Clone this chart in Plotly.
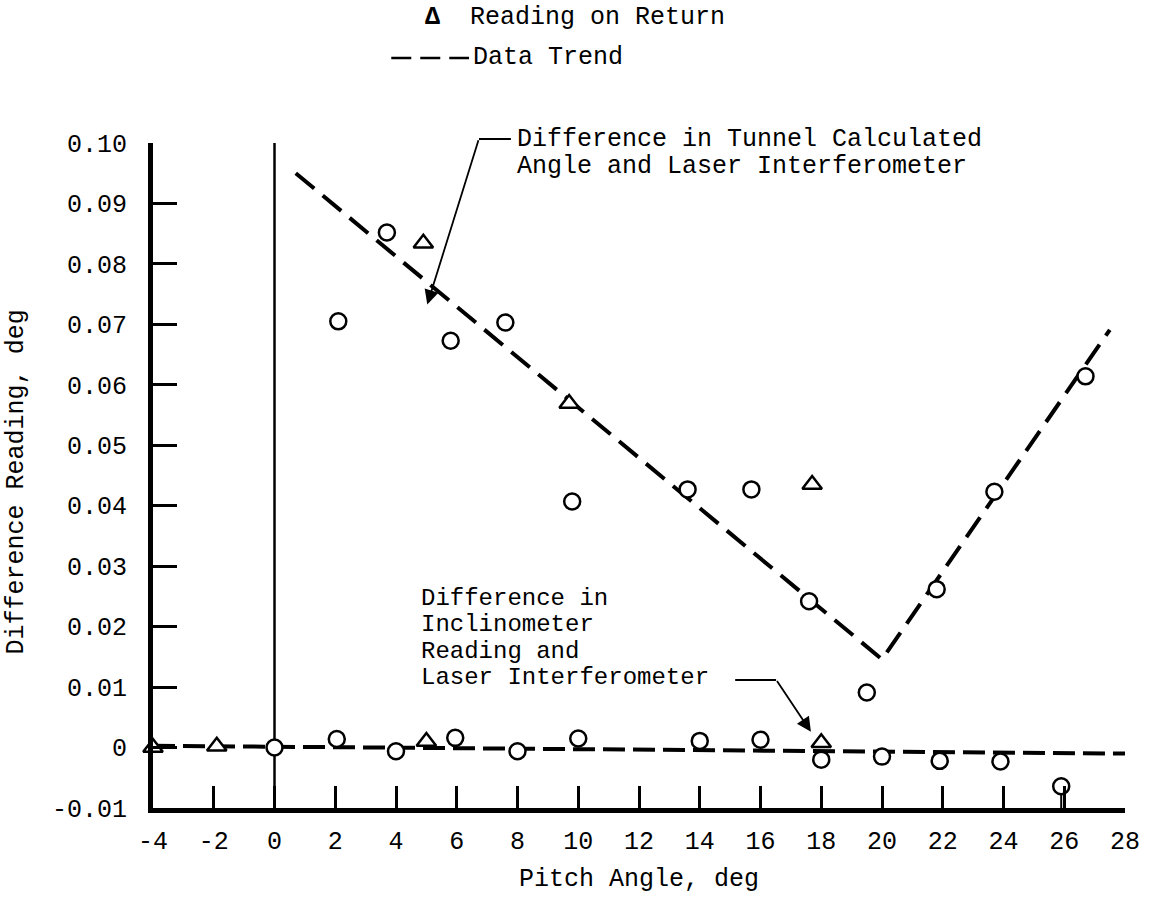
import plotly.graph_objects as go

# ---------------- data ----------------
# Upper group: Difference in Tunnel Calculated Angle and Laser Interferometer
up_circ_x = [2.1, 3.7, 5.8, 7.6, 9.8, 13.6, 15.7, 17.6, 19.5, 21.8, 23.7, 26.7]
up_circ_y = [0.0705, 0.0852, 0.0673, 0.0703, 0.0407, 0.0427, 0.0427, 0.0242, 0.0091, 0.0262, 0.0423, 0.0614]
up_tri_x = [4.9, 9.7, 17.7]
up_tri_y = [0.0834, 0.0569, 0.0435]
up_trend_x = [0.7, 20.0, 27.5]
up_trend_y = [0.0950, 0.0146, 0.0691]

# Lower group: Difference in Inclinometer Reading and Laser Interferometer
lo_circ_x = [0.0, 2.05, 4.0, 5.95, 8.0, 10.0, 14.0, 16.0, 18.0, 20.0, 21.9, 23.9, 25.9]
lo_circ_y = [0.0, 0.0014, -0.0006, 0.0016, -0.0006, 0.0015, 0.0011, 0.0013, -0.0020, -0.0015, -0.0022, -0.0023, -0.0064]
lo_circ_stem_down = [0, 0, 0, 0, 0, 0, 0, 0, 0, 0, 0, 0, 0.0036]
lo_tri_x = [-4.0, -1.9, 5.0, 18.0]
lo_tri_y = [0.0, 0.0002, 0.0010, 0.0008]
lo_trend_x = [-4.0, 28.0]
lo_trend_y = [0.0003, -0.0010]

x_ticks = list(range(-4, 29, 2))
y_tickvals = [-0.01, 0.0, 0.01, 0.02, 0.03, 0.04, 0.05, 0.06, 0.07, 0.08, 0.09, 0.10]
y_ticktext = ["-0.01", "0", "0.01", "0.02", "0.03", "0.04", "0.05", "0.06", "0.07", "0.08", "0.09", "0.10"]

upper_label_lines = ["Difference in Tunnel Calculated", "Angle and Laser Interferometer"]
lower_label_lines = ["Difference in", "Inclinometer", "Reading and", "Laser Interferometer"]

FONT = "Liberation Mono"
FS = 25
INK = "black"

fig = go.Figure()

# trend lines
fig.add_trace(go.Scatter(x=up_trend_x, y=up_trend_y, mode="lines",
                         line=dict(color=INK, width=4, dash="24px,11px"),
                         showlegend=False, hoverinfo="skip"))
fig.add_trace(go.Scatter(x=lo_trend_x, y=lo_trend_y, mode="lines",
                         line=dict(color=INK, width=4, dash="22px,8px"),
                         showlegend=False, hoverinfo="skip", cliponaxis=False))

# x = 0 reference line
fig.add_shape(type="line", x0=0, x1=0, y0=-0.01, y1=0.10, xref="x", yref="y",
              line=dict(color=INK, width=2.5), layer="below")

marker_circ = dict(symbol="circle", size=16, color="white", line=dict(color=INK, width=2.5))
marker_tri = dict(symbol="triangle-up", size=17, color="white", line=dict(color=INK, width=2.5))

fig.add_trace(go.Scatter(x=up_circ_x, y=up_circ_y, mode="markers", marker=marker_circ,
                         showlegend=False, cliponaxis=False))
fig.add_trace(go.Scatter(x=lo_circ_x, y=lo_circ_y, mode="markers", marker=marker_circ,
                         error_y=dict(type="data", symmetric=False, array=[0] * len(lo_circ_x),
                                      arrayminus=lo_circ_stem_down, width=0, thickness=2,
                                      color=INK),
                         showlegend=False, cliponaxis=False))
for tx, ty in [(up_tri_x, up_tri_y), (lo_tri_x, lo_tri_y)]:
    fig.add_trace(go.Scatter(x=tx, y=ty, mode="markers", marker=marker_tri,
                             showlegend=False, cliponaxis=False))

# helpers: pixel -> paper
W, H = 975.0, 665.0
def px(xp):
    return (xp - 153) / W
def py(yp):
    return (808 - yp) / H

# leader lines (horizontal part) and arrows
fig.add_shape(type="line", x0=px(480), x1=px(512), y0=py(139), y1=py(139),
              xref="paper", yref="paper", line=dict(color=INK, width=2))
fig.add_annotation(x=5.03, y=0.0733, ax=6.73, ay=0.1007, xref="x", yref="y",
                   axref="x", ayref="y", text="", showarrow=True,
                   arrowhead=2, arrowsize=1.6, arrowwidth=1.8, arrowcolor=INK, standoff=0)
fig.add_shape(type="line", x0=px(737), x1=px(778), y0=py(680), y1=py(680),
              xref="paper", yref="paper", line=dict(color=INK, width=2))
fig.add_annotation(x=17.66, y=0.0026, ax=16.51, ay=0.01125, xref="x", yref="y",
                   axref="x", ayref="y", text="", showarrow=True,
                   arrowhead=2, arrowsize=1.6, arrowwidth=1.8, arrowcolor=INK, standoff=0)

# label texts (one annotation per line for tight typewriter line spacing)
for i, line in enumerate(upper_label_lines):
    fig.add_annotation(x=px(516), y=py(140 + 27 * i), xref="paper", yref="paper",
                       xanchor="left", yanchor="middle", showarrow=False, text=line,
                       font=dict(family=FONT, size=FS, color=INK))
for i, line in enumerate(lower_label_lines):
    fig.add_annotation(x=px(420), y=py(598 + 26.5 * i), xref="paper", yref="paper",
                       xanchor="left", yanchor="middle", showarrow=False, text=line,
                       font=dict(family=FONT, size=24, color=INK))

# legend (as text)
fig.add_annotation(x=px(424), y=py(18), xref="paper", yref="paper", xanchor="left",
                   yanchor="middle", showarrow=False, text="<b>Δ</b>  Reading on Return",
                   font=dict(family=FONT, size=FS, color=INK))
fig.add_shape(type="line", x0=px(392), x1=px(470), y0=py(58), y1=py(58),
              xref="paper", yref="paper", line=dict(color=INK, width=2.5, dash="20px,9px"))
fig.add_annotation(x=px(472), y=py(58), xref="paper", yref="paper", xanchor="left",
                   yanchor="middle", showarrow=False, text="Data Trend",
                   font=dict(family=FONT, size=FS, color=INK))

# axis titles
fig.add_annotation(x=px(640), y=py(879), xref="paper", yref="paper", xanchor="center",
                   yanchor="middle", showarrow=False, text="Pitch Angle, deg",
                   font=dict(family=FONT, size=FS, color=INK))
fig.add_annotation(x=px(16), y=py(482), xref="paper", yref="paper", xanchor="center",
                   yanchor="middle", showarrow=False, text="Difference Reading, deg",
                   textangle=-90, font=dict(family=FONT, size=FS, color=INK))

fig.update_layout(
    width=1152, height=899,
    margin=dict(l=153, r=24, t=143, b=91),
    paper_bgcolor="white", plot_bgcolor="white",
    font=dict(family=FONT, size=FS, color=INK),
    showlegend=False,
)
fig.update_xaxes(range=[-4, 28], tickvals=x_ticks, ticktext=[str(v) for v in x_ticks],
                 showgrid=False, zeroline=False, showline=True, linewidth=5, linecolor=INK,
                 ticks="inside", ticklen=22, tickwidth=2.5, tickcolor=INK,
                 ticklabelstandoff=6)
fig.update_yaxes(range=[-0.01, 0.10], tickvals=y_tickvals, ticktext=y_ticktext,
                 showgrid=False, zeroline=False, showline=True, linewidth=5, linecolor=INK,
                 ticks="inside", ticklen=24, tickwidth=2.5, tickcolor=INK,
                 ticklabelstandoff=16)

fig.write_html("out.html")
